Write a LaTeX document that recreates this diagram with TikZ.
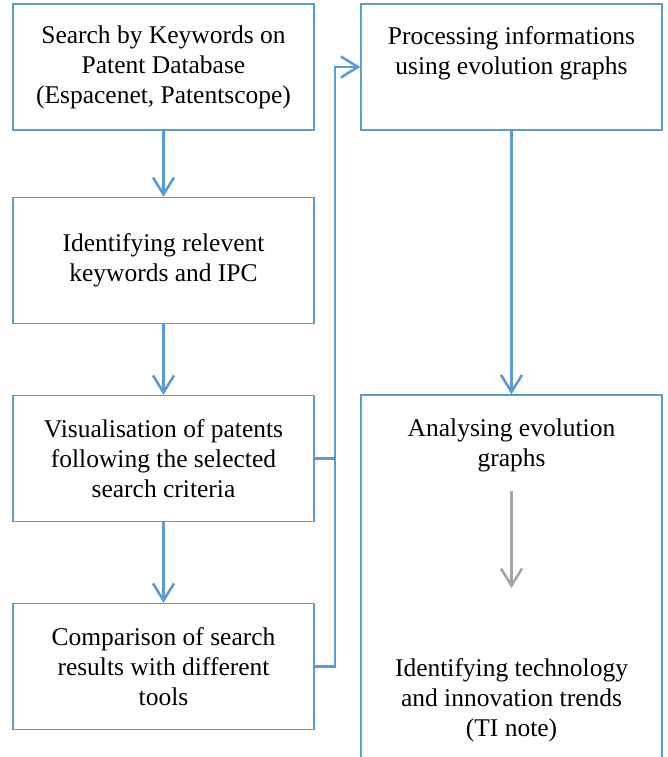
\documentclass[tikz,border=0pt]{standalone}
\usepackage{fontspec}
\setmainfont{Liberation Serif}
\usetikzlibrary{positioning, arrows.meta}

\definecolor{flowblue}{HTML}{5B9BD5}
\definecolor{flowgray}{HTML}{A5A5A5}

\begin{document}
\begin{tikzpicture}[x=1pt, y=-1pt,
    txt/.style={align=center, inner sep=0pt, font=\fontsize{25.5}{30}\selectfont},
    box/.style={txt, draw=flowblue, line width=1.2pt, minimum width=301pt, minimum height=126pt},
    flow/.style={flowblue, line width=2.6pt, -{Straight Barb[length=17pt, width=21pt]}},
    link/.style={flowblue, line width=2.6pt},
    grayflow/.style={flowgray, line width=2.6pt, -{Straight Barb[length=17pt, width=21pt]}}]
    \clip (0,0) rectangle (668,757);

    % Define nodes
    \node[box] (search) at (163.5,67) {Search by Keywords on\\Patent Database\\(Espacenet, Patentscope)};
    \node[box] (identify) at (163.5,260.5) {Identifying relevent\\keywords and IPC};
    \node[box] (visual) at (163.5,458.5) {Visualisation of patents\\following the selected\\search criteria};
    \node[box] (compare) at (163.5,666.5) {Comparison of search\\results with different\\tools};

    \node[box] (process) at (511.5,67) {};
    \node[txt, below=23pt of process.north] (processtext) {Processing informations\\using evolution graphs};

    \node[box, minimum height=400pt] (analysis) at (511.5,595) {};
    \node[txt, below=24pt of analysis.north] (analyse) {Analysing evolution\\graphs};
    \node[txt, anchor=north] (trends) at (511.5,658) {Identifying technology\\and innovation trends\\(TI note)};

    \coordinate (bus) at (335,0);

    % Draw arrows
    \draw[flow] (search) -- (identify);
    \draw[flow] (identify) -- (visual);
    \draw[flow] (visual) -- (compare);
    \draw[link] (visual.east) -- (visual.east -| bus);
    \draw[flow] (compare.east) -- (compare.east -| bus) |- (process.west);
    \draw[flow] (process) -- (analysis.north);
    \draw[grayflow, shorten <=19pt, shorten >=70pt] (analyse.south) -- (trends.north);
\end{tikzpicture}
\end{document}
